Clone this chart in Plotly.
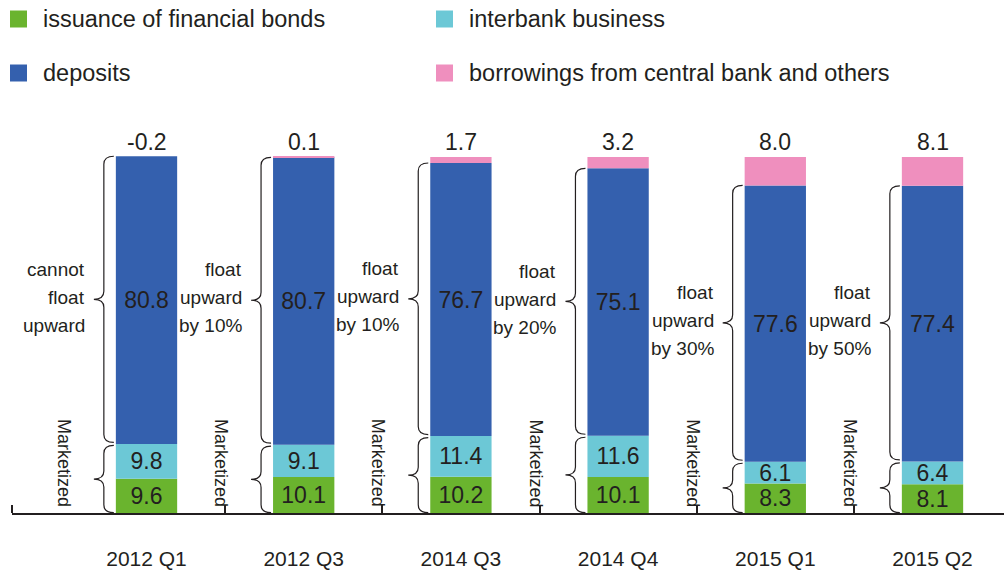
import plotly.graph_objects as go

# ---- data -------------------------------------------------------------
categories = ["2012 Q1", "2012 Q3", "2014 Q3", "2014 Q4", "2015 Q1", "2015 Q2"]
bonds = [9.6, 10.1, 10.2, 10.1, 8.3, 8.1]
interbank = [9.8, 9.1, 11.4, 11.6, 6.1, 6.4]
deposits = [80.8, 80.7, 76.7, 75.1, 77.6, 77.4]
borrowings = [-0.2, 0.1, 1.7, 3.2, 8.0, 8.1]

series_names = [
    "issuance of financial bonds",
    "interbank business",
    "deposits",
    "borrowings from central bank and others",
]
deposit_notes = [
    ["cannot", "float", "upward"],
    ["float", "upward", "by 10%"],
    ["float", "upward", "by 10%"],
    ["float", "upward", "by 20%"],
    ["float", "upward", "by 30%"],
    ["float", "upward", "by 50%"],
]
market_note = "Marketized"

# ---- style ------------------------------------------------------------
colors = ["#6ab42e", "#6cc8d6", "#3460ae", "#ef8fbe"]
INK = "#231f20"
FONT = "Liberation Sans, Arial, Helvetica, sans-serif"

W, H = 1004, 572
ML, MR, MT, MB = 12, 0, 100, 59
X_RANGE = [-0.8556, 5.4548]
Y_RANGE = [0, 116.0]
BAR_W = 0.39

plot_w = W - ML - MR
plot_h = H - MT - MB
px_x = plot_w / (X_RANGE[1] - X_RANGE[0])   # pixels per category unit
px_y = plot_h / (Y_RANGE[1] - Y_RANGE[0])   # pixels per percentage point

xs = list(range(len(categories)))
series = [bonds, interbank, deposits, borrowings]

fig = go.Figure()
for k, (name, vals, col) in enumerate(zip(series_names, series, colors)):
    labelled = k < 3
    fig.add_trace(go.Bar(
        x=xs, y=vals, name=name, width=BAR_W,
        marker=dict(color=col, line=dict(width=0)),
        text=[f"{v:.1f}" for v in vals] if labelled else None,
        textposition="inside" if labelled else "none",
        insidetextanchor="middle", textangle=0, constraintext="none",
        insidetextfont=dict(family=FONT, size=23, color=INK),
        showlegend=False,
    ))

annotations = []
shapes = []

# value of the top segment written above each stack
for i in xs:
    total = bonds[i] + interbank[i] + deposits[i] + borrowings[i]
    annotations.append(dict(
        x=i, y=total, xref="x", yref="y", text=f"{borrowings[i]:.1f}",
        showarrow=False, yanchor="bottom", xanchor="center",
        font=dict(family=FONT, size=23, color=INK),
    ))


def brace_path(x_left, y_top, y_bot):
    """Left-facing curly brace next to a bar segment, in data units."""
    xt = x_left - 2 / px_x
    xs_ = x_left - 12 / px_x
    xc = x_left - 22 / px_x
    ry = 8 / px_y
    ym = (y_top + y_bot) / 2
    return (
        f"M {xt},{y_top} Q {xs_},{y_top} {xs_},{y_top - ry} "
        f"L {xs_},{ym + ry} Q {xs_},{ym} {xc},{ym} "
        f"Q {xs_},{ym} {xs_},{ym - ry} "
        f"L {xs_},{y_bot + ry} Q {xs_},{y_bot} {xt},{y_bot}"
    )


gap = 1.5 / px_y
for i in xs:
    x_left = i - BAR_W / 2
    base = bonds[i] + interbank[i]
    top = base + deposits[i]
    shapes.append(dict(type="path", xref="x", yref="y",
                       path=brace_path(x_left, top, base + gap),
                       line=dict(color=INK, width=1.2)))
    shapes.append(dict(type="path", xref="x", yref="y",
                       path=brace_path(x_left, base - gap, 0.3 / px_y),
                       line=dict(color=INK, width=1.2)))
    # text beside the deposits brace
    mid = (base + top) / 2
    lines = deposit_notes[i]
    n = len(lines)
    for j, line in enumerate(lines):
        annotations.append(dict(
            x=x_left, y=mid, xref="x", yref="y", text=line,
            showarrow=False, xanchor="right", yanchor="middle",
            xshift=-29, yshift=((n - 1) / 2 - j) * 28 + 3,
            font=dict(family=FONT, size=19, color=INK),
        ))
    # vertical label beside the market-priced brace
    annotations.append(dict(
        x=i - 0.5, y=0, xref="x", yref="y", text=market_note,
        showarrow=False, textangle=90, xanchor="center", yanchor="bottom",
        xshift=-4, yshift=4,
        font=dict(family=FONT, size=18, color=INK),
    ))

# legend drawn as swatches + labels across the top
legend_cols = [10, 436]
legend_rows = [19, 73]
sw = 17


def to_paper(px, py):
    return (px - ML) / plot_w, (H - MB - py) / plot_h


for k, (name, col) in enumerate(zip(series_names, colors)):
    cx = legend_cols[k % 2]
    cy = legend_rows[k // 2]
    x0, y0 = to_paper(cx, cy + sw / 2)
    x1, y1 = to_paper(cx + sw, cy - sw / 2)
    shapes.append(dict(type="rect", xref="paper", yref="paper",
                       x0=x0, y0=y0, x1=x1, y1=y1,
                       fillcolor=col, line=dict(width=0)))
    tx, ty = to_paper(cx + sw + 14, cy)
    annotations.append(dict(
        x=tx, y=ty, xref="paper", yref="paper", text=name,
        showarrow=False, xanchor="left", yanchor="middle",
        font=dict(family=FONT, size=23.5, color=INK),
    ))

fig.update_layout(
    width=W, height=H,
    margin=dict(l=ML, r=MR, t=MT, b=MB, pad=0),
    barmode="relative",
    plot_bgcolor="white", paper_bgcolor="white",
    showlegend=False,
    annotations=annotations,
    shapes=shapes,
    xaxis=dict(
        range=X_RANGE, tickmode="array", tickvals=xs, ticktext=categories,
        ticks="", showgrid=False, zeroline=False,
        showline=True, linecolor=INK, linewidth=1.5,
        tickfont=dict(family=FONT, size=21, color=INK),
        ticklabelstandoff=26,
        minor=dict(tickmode="array",
                   tickvals=[X_RANGE[0]] + [i + 0.5 for i in xs[:-1]],
                   ticks="inside", ticklen=8, tickcolor=INK, tickwidth=1.5,
                   showgrid=False),
    ),
    yaxis=dict(range=Y_RANGE, visible=False),
)

fig.write_html("out.html")
